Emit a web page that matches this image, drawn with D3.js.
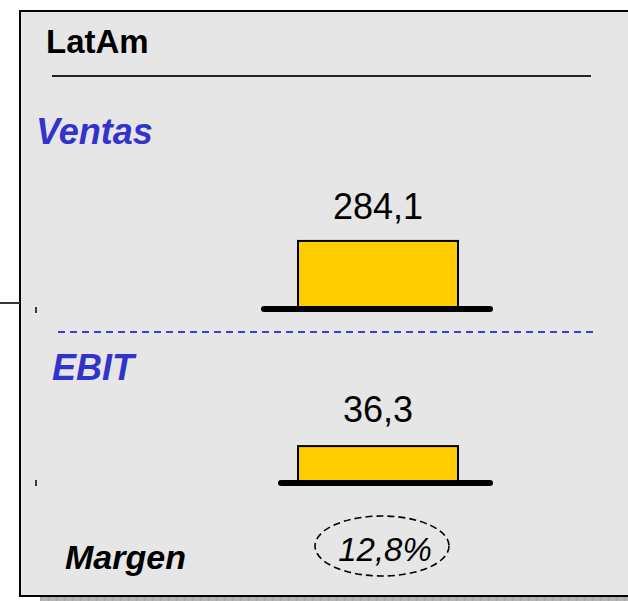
<!DOCTYPE html>
<html>
<head>
<meta charset="utf-8">
<script src="https://cdn.jsdelivr.net/npm/d3@7"></script>
<style>
  html, body { margin: 0; padding: 0; background: #fff; overflow: hidden; }
  svg { display: block; overflow: hidden; font-family: "Liberation Sans", Arial, sans-serif; }
</style>
</head>
<body>
<svg id="chart" width="628" height="601"></svg>
<script>
// data
var region = ["LatAm"];
var metrics = ["Ventas", "EBIT"];
var values = [284.1, 36.3];
var labels = ["284,1", "36,3"];
var scaleMax = [430, 104];
var marginLabel = "Margen";
var marginValue = "12,8%";

var svg = d3.select("#chart"),
  width = +svg.attr("width"),
  height = +svg.attr("height");

// hatched shadow strip under the panel
var defs = svg.append("defs");
var pat = defs.append("pattern")
  .attr("id", "hatch").attr("patternUnits", "userSpaceOnUse")
  .attr("width", 8).attr("height", 4);
pat.append("rect").attr("width", 8).attr("height", 4).attr("fill", "#b4b4b4");
pat.append("line").attr("x1", 0).attr("y1", 0).attr("x2", 0).attr("y2", 4)
  .attr("stroke", "#9a9a9a").attr("stroke-width", 1);

svg.append("rect")
  .attr("x", 40).attr("y", 597).attr("width", width - 40).attr("height", 4)
  .attr("fill", "url(#hatch)");

// panel (runs off the right edge, no right border visible)
svg.append("rect")
  .attr("x", 20).attr("y", 11).attr("width", width + 200).attr("height", 585)
  .attr("fill", "#e6e6e6").attr("stroke", "#000").attr("stroke-width", 2);

// connector stub on the left
svg.append("line")
  .attr("x1", 0).attr("x2", 20).attr("y1", 303).attr("y2", 303)
  .attr("stroke", "#333").attr("stroke-width", 2);

// title
svg.append("text")
  .attr("x", 46).attr("y", 53)
  .attr("font-size", 33).attr("font-weight", "bold").attr("fill", "#000")
  .text(region[0]);

svg.append("line")
  .attr("x1", 52).attr("x2", 591).attr("y1", 76).attr("y2", 76)
  .attr("stroke", "#222").attr("stroke-width", 2);

var x = d3.scaleBand().domain(region).range([298, 458]).padding(0);

// row layout: label position, baseline of the bar, baseline line extent
var rows = [
  {lx: 36, ly: 144, base: 307, lineX0: 264, valY: 219, tickY: 310},
  {lx: 52, ly: 380, base: 481, lineX0: 281, valY: 422, tickY: 483}
];

metrics.forEach(function (m, i) {
  var r = rows[i];
  var y = d3.scaleLinear().domain([0, scaleMax[i]]).range([r.base, r.base - 100]);

  svg.append("text")
    .attr("x", r.lx).attr("y", r.ly)
    .attr("font-size", 36).attr("font-weight", "bold").attr("font-style", "italic")
    .attr("fill", "#3333cc")
    .text(m);

  svg.append("rect")
    .attr("x", x(region[0])).attr("width", x.bandwidth())
    .attr("y", y(values[i])).attr("height", y(0) - y(values[i]))
    .attr("fill", "#ffcc00").attr("stroke", "#000").attr("stroke-width", 2);

  svg.append("path")
    .attr("d", "M" + r.lineX0 + "," + (r.base + 2) + "H490")
    .attr("stroke", "#000").attr("stroke-width", 6).attr("stroke-linecap", "round")
    .attr("fill", "none");
  svg.append("line")
    .attr("x1", r.lineX0).attr("x2", r.lineX0 + 10).attr("y1", r.base + 2).attr("y2", r.base + 2)
    .attr("stroke", "#000").attr("stroke-width", 6);

  svg.append("text")
    .attr("x", x(region[0]) + x.bandwidth() / 2).attr("y", r.valY)
    .attr("text-anchor", "middle").attr("font-size", 36).attr("fill", "#000")
    .text(labels[i]);

  svg.append("line")
    .attr("x1", 36).attr("x2", 36).attr("y1", r.tickY - 3).attr("y2", r.tickY + 3)
    .attr("stroke", "#000").attr("stroke-width", 1.5);
});

// separator
svg.append("line")
  .attr("x1", 58).attr("x2", 593).attr("y1", 332).attr("y2", 332)
  .attr("stroke", "#3c3cdc").attr("stroke-width", 2)
  .attr("stroke-dasharray", "7,5");

// margin
svg.append("text")
  .attr("x", 65).attr("y", 569)
  .attr("font-size", 34).attr("font-weight", "bold").attr("font-style", "italic")
  .attr("fill", "#000")
  .text(marginLabel);

svg.append("ellipse")
  .attr("cx", 382).attr("cy", 546).attr("rx", 67).attr("ry", 30)
  .attr("fill", "none").attr("stroke", "#000").attr("stroke-width", 1.6)
  .attr("stroke-dasharray", "7,4");

svg.append("text")
  .attr("x", 385).attr("y", 561)
  .attr("text-anchor", "middle").attr("font-size", 33).attr("font-style", "italic")
  .attr("fill", "#000")
  .text(marginValue);
</script>
</body>
</html>
